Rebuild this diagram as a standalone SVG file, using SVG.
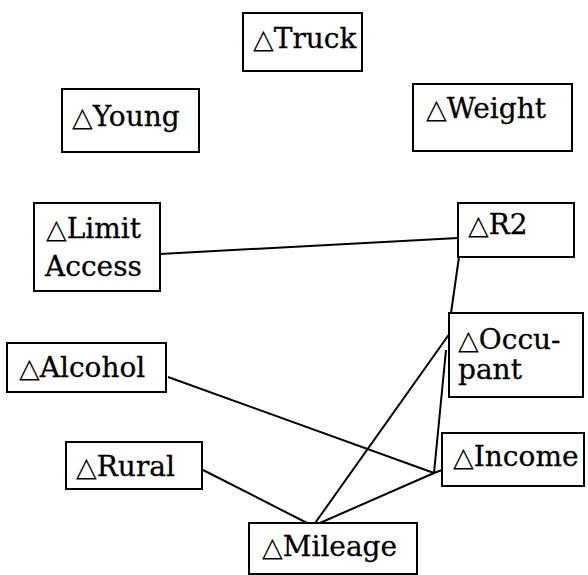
<svg xmlns="http://www.w3.org/2000/svg" width="588" height="575" viewBox="0 0 588 575">
  <style>
    .box { fill: #ffffff; stroke: #000000; stroke-width: 2; }
    .lbl { font-family: "DejaVu Serif", "Liberation Serif", serif; font-size: 28px; fill: #000000; stroke: #000000; stroke-width: 0.3; }
    .tri { font-family: "DejaVu Sans", sans-serif; font-size: 27px; stroke-width: 0; }
    .edge { stroke: #000000; stroke-width: 2; fill: none; }
  </style>
  <rect width="588" height="575" fill="#ffffff"/>

  <!-- connectors -->
  <g id="edges">
    <line class="edge" x1="160" y1="254" x2="458" y2="238"/>
    <line class="edge" x1="459" y1="257" x2="451" y2="313"/>
    <line class="edge" x1="450" y1="333" x2="313" y2="526"/>
    <polyline class="edge" points="446,350 434,473 442,470"/>
    <line class="edge" x1="168" y1="377" x2="434" y2="473"/>
    <line class="edge" x1="313" y1="526" x2="434" y2="473"/>
    <line class="edge" x1="203" y1="470" x2="313" y2="526"/>
  </g>

  <g id="truck">
    <rect class="box" x="243" y="13" width="119" height="58"/>
    <text class="lbl" x="253" y="48"><tspan class="tri">△</tspan>Truck</text>
  </g>

  <g id="young">
    <rect class="box" x="62" y="89" width="137" height="63"/>
    <text class="lbl" x="72" y="126"><tspan class="tri">△</tspan>Young</text>
  </g>

  <g id="weight">
    <rect class="box" x="413" y="84" width="159" height="67"/>
    <text class="lbl" x="426" y="118"><tspan class="tri">△</tspan>Weight</text>
  </g>

  <g id="limit-access">
    <rect class="box" x="34" y="203" width="126" height="88"/>
    <text class="lbl" x="46" y="238"><tspan class="tri">△</tspan>Limit</text>
    <text class="lbl" x="45" y="276">Access</text>
  </g>

  <g id="r2">
    <rect class="box" x="458" y="203" width="116" height="54"/>
    <text class="lbl" x="468" y="234"><tspan class="tri">△</tspan>R2</text>
  </g>

  <g id="occupant">
    <rect class="box" x="449" y="313" width="134" height="84"/>
    <text class="lbl" x="458" y="349"><tspan class="tri">△</tspan>Occu-</text>
    <text class="lbl" x="458" y="379">pant</text>
  </g>

  <g id="alcohol">
    <rect class="box" x="7" y="343" width="159" height="49"/>
    <text class="lbl" x="19" y="377"><tspan class="tri">△</tspan>Alcohol</text>
  </g>

  <g id="income">
    <rect class="box" x="442" y="433" width="142" height="53"/>
    <text class="lbl" x="453" y="466"><tspan class="tri">△</tspan>Income</text>
  </g>

  <g id="rural">
    <rect class="box" x="66" y="442" width="136" height="47"/>
    <text class="lbl" x="76" y="476"><tspan class="tri">△</tspan>Rural</text>
  </g>

  <g id="mileage">
    <rect class="box" x="249" y="523" width="168" height="51"/>
    <text class="lbl" x="262" y="556"><tspan class="tri">△</tspan>Mileage</text>
  </g>
</svg>
